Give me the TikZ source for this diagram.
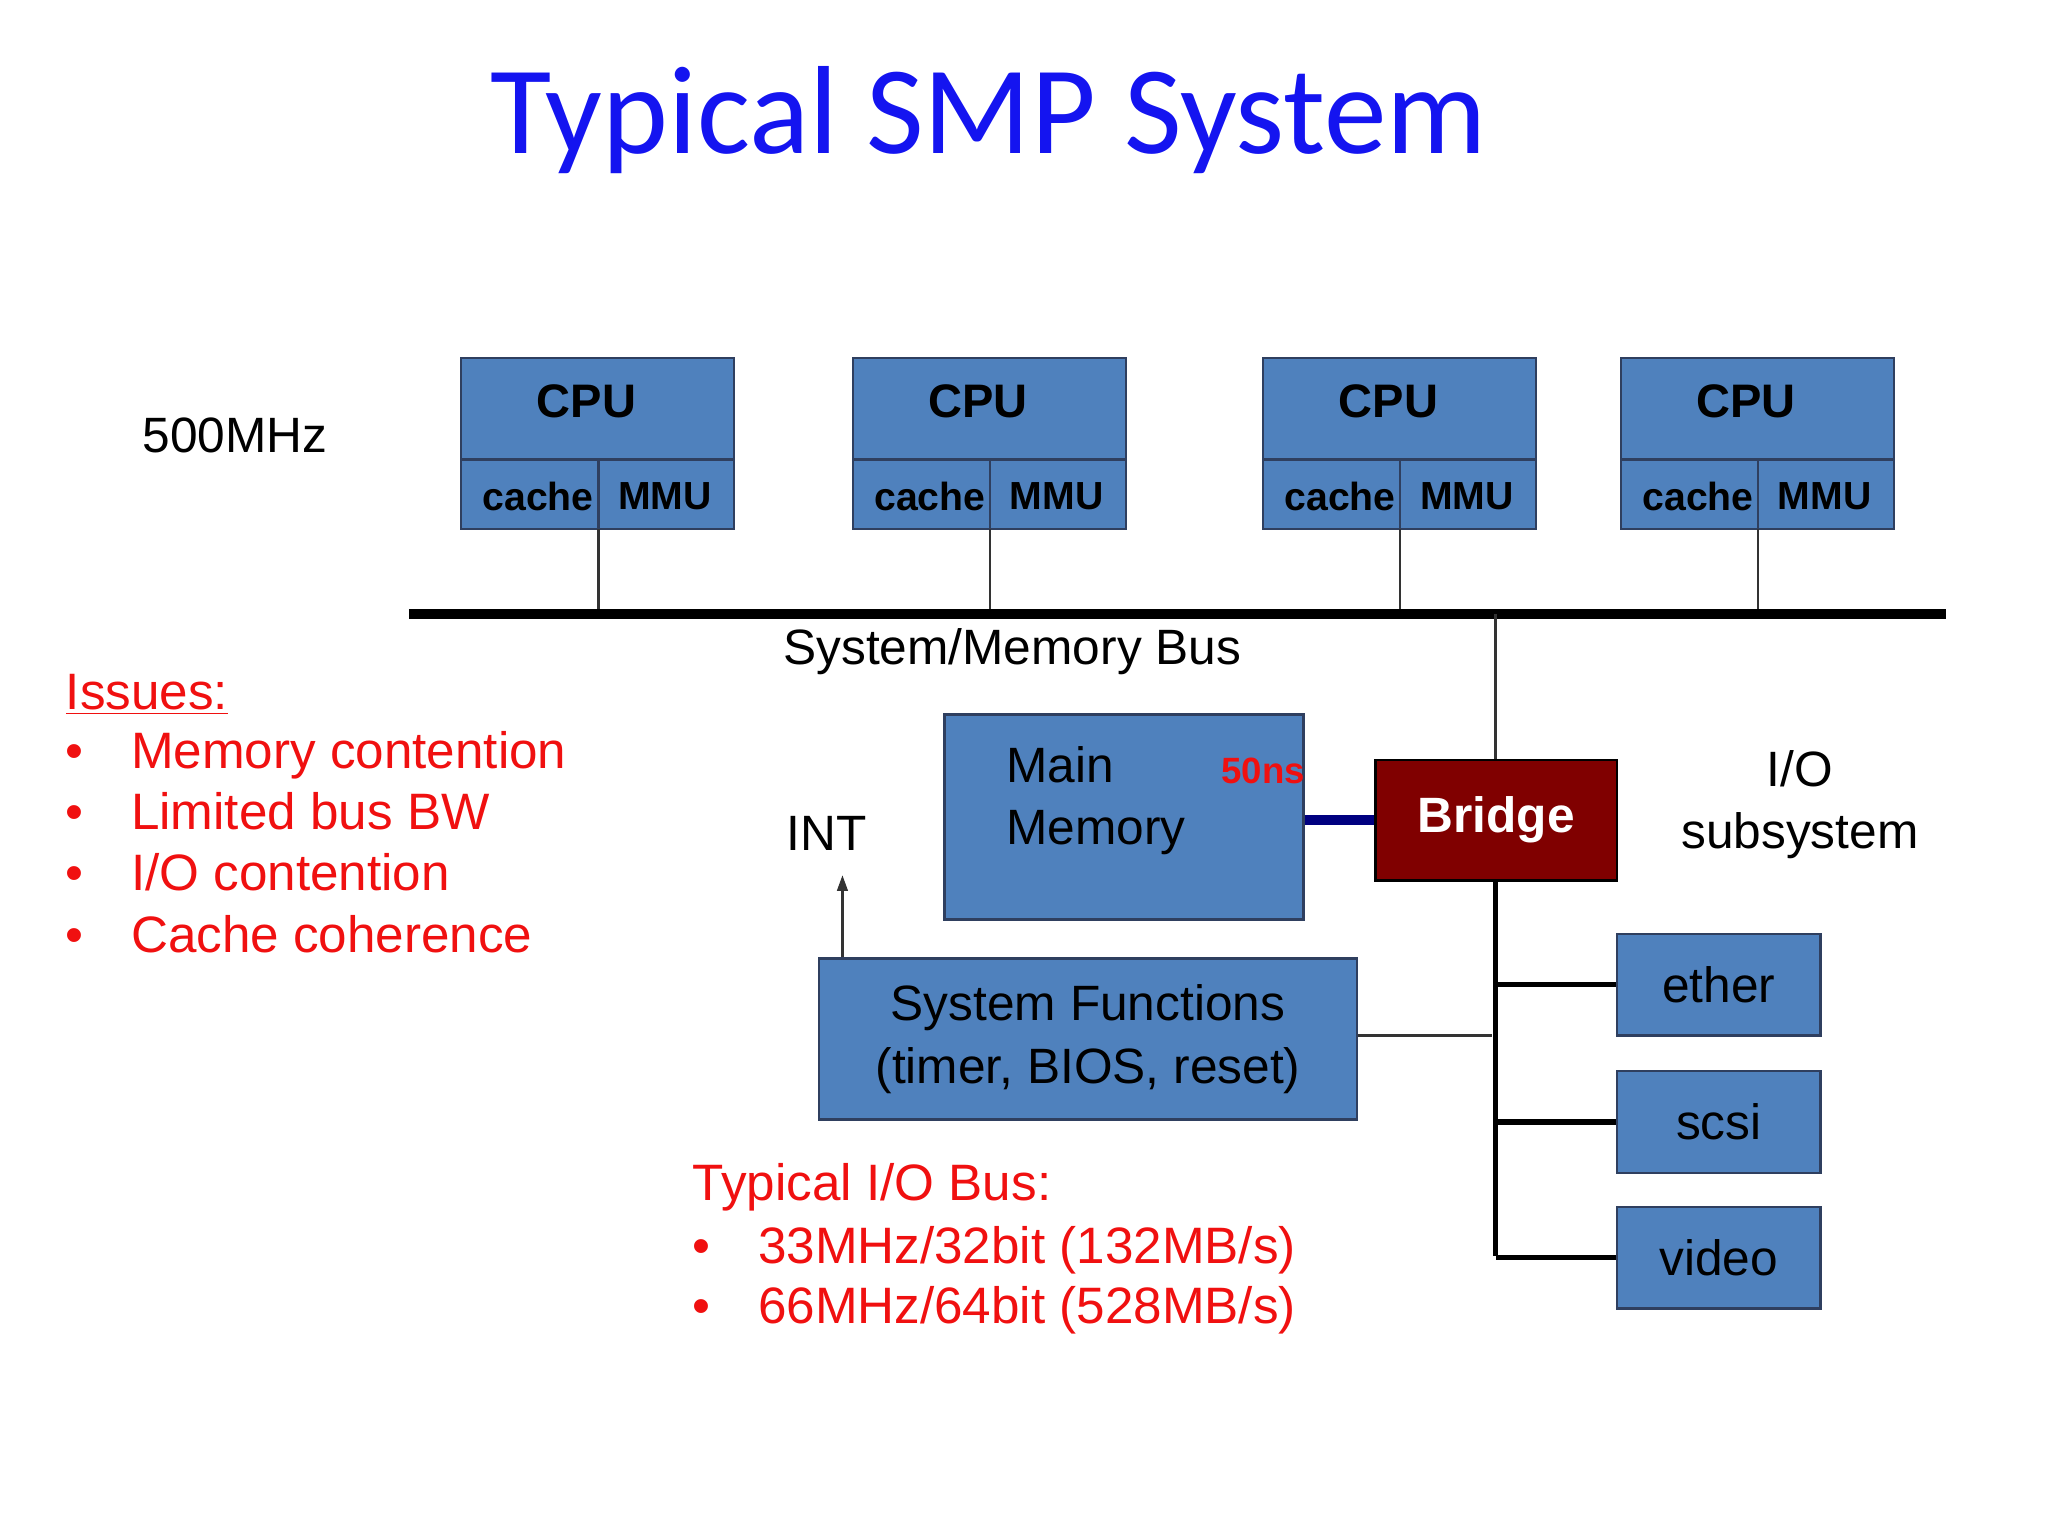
\documentclass[tikz,border=0pt]{standalone}
\usepackage{fontspec}
\setmainfont{Liberation Sans}
\newfontfamily\calib{Carlito}
\usetikzlibrary{arrows.meta}
\definecolor{boxb}{HTML}{4F81BD}
\definecolor{boxe}{HTML}{2F3F5F}
\definecolor{ttl}{HTML}{1414F0}
\definecolor{rd}{HTML}{F01010}
\begin{document}
\begin{tikzpicture}[x=0.5pt,y=-0.5pt,
  bx/.style={draw=boxe,line width=1pt,fill=boxb},
  ln/.style={line width=1pt,draw=black!80},
  thk/.style={line width=2pt,draw=black},
  txt/.style={font=\fontsize{19}{23}\selectfont,inner sep=0},
  red/.style={inner sep=0,font=\fontsize{19.6}{23}\selectfont,text=rd}]
\useasboundingbox (0,0) rectangle (1568,1176);
\node[font=\calib\fontsize{48}{54}\selectfont,text=ttl] (title) at (757,92) {Typical SMP System};
\node[txt] (mhz) at (180,333) {500MHz};
\foreach \x/\n in {353/a,653/b,967/c,1241/d}{
  \draw[bx] (\x,274) rectangle (\x+209,405);
  \draw[bx] (\x,352) -- (\x+209,352);
  \draw[bx] (\x+105,352) -- (\x+105,405);
  \node[font=\bfseries\fontsize{18}{20}\selectfont] (cpu\n) at (\x+96,307) {CPU};
  \node[font=\bfseries\fontsize{15}{17}\selectfont] (cache\n) at (\x+59,380) {cache};
  \node[font=\bfseries\fontsize{15}{17}\selectfont] (mmu\n) at (\x+156,380) {MMU};
  \coordinate (t\n) at (\x+105,405);
  \coordinate (s\n) at (\x+105,470);
  \draw[ln] (t\n) -- (s\n);
}
\coordinate (busl) at (313,470); \coordinate (busr) at (1490,470);
\draw[line width=4pt] (busl) -- (busr);
\node[txt] (busl) at (775,499) {System/Memory Bus};
\node[bx,anchor=north west,inner sep=0,minimum width=137.5pt,minimum height=78.5pt] (mem) at (722,546) {};
\node[txt,align=left,anchor=west,font=\fontsize{19}{24}\selectfont] (memt) at (770,613) {Main\\Memory};
\node[font=\bfseries\fontsize{14}{16}\selectfont,text=rd,inner sep=0] (ns) at (967,590) {50ns};
\node[draw=black,line width=1pt,fill={rgb,255:red,128;green,0;blue,0},anchor=north west,minimum width=92.5pt,minimum height=46pt,text=white,font=\bfseries\fontsize{19}{22}\selectfont] (br) at (1052,581) {Bridge};
\draw[line width=4pt,draw={rgb,255:red,0;green,0;blue,128}] (mem.east|-br) -- (br.west);
\coordinate (bbus) at (1145,470);
\draw[ln] (bbus) -- (br.north-|bbus);
\node[txt,align=center,font=\fontsize{19}{24}\selectfont] (io) at (1378,616) {I/O\\subsystem};
\node[txt] (int) at (633,638) {INT};
\node[bx,anchor=north west,minimum width=206pt,minimum height=61.5pt,align=center,font=\fontsize{19}{24}\selectfont,inner sep=0] (sf) at (626,733) {System Functions\\(timer, BIOS, reset)};
\draw[ln,-{Triangle[length=6pt,width=4pt]}] (sf.north-|645,0) -- (645,670);
\coordinate (bend) at (1145,962);
\draw[thk] (br.south-|bend) -- (bend);
\draw[ln] (sf.east|-0,793) -- (1142,793);
\foreach \y/\t in {714/ether,819/scsi,923/video}{
  \node[bx,anchor=north west,minimum width=78pt,minimum height=39pt,txt] (\t) at (1237,\y) {\t};
  \draw[thk] (bend|-\t.west) -- (\t.west);
}
\node[red,anchor=west] (iss) at (50,532) {\underline{Issues:}};
\foreach \y/\t/\n in {578/Memory contention/i1,625/Limited bus BW/i2,672/I\slash O contention/i3,719/Cache coherence/i4}{
  \node[red,anchor=base] (b\n) at (57,\y+10) {\textbullet};
  \node[red,anchor=base west] (\n) at (100,\y+10) {\t};
}
\node[red,anchor=base west] (iob) at (530,919) {Typical I/O Bus:};
\foreach \y/\t/\n in {957/33MHz\slash 32bit (132MB\slash s)/j1,1003/66MHz\slash 64bit (528MB\slash s)/j2}{
  \node[red,anchor=base] (b\n) at (537,\y+10) {\textbullet};
  \node[red,anchor=base west] (\n) at (580,\y+10) {\t};
}
\end{tikzpicture}
\end{document}
